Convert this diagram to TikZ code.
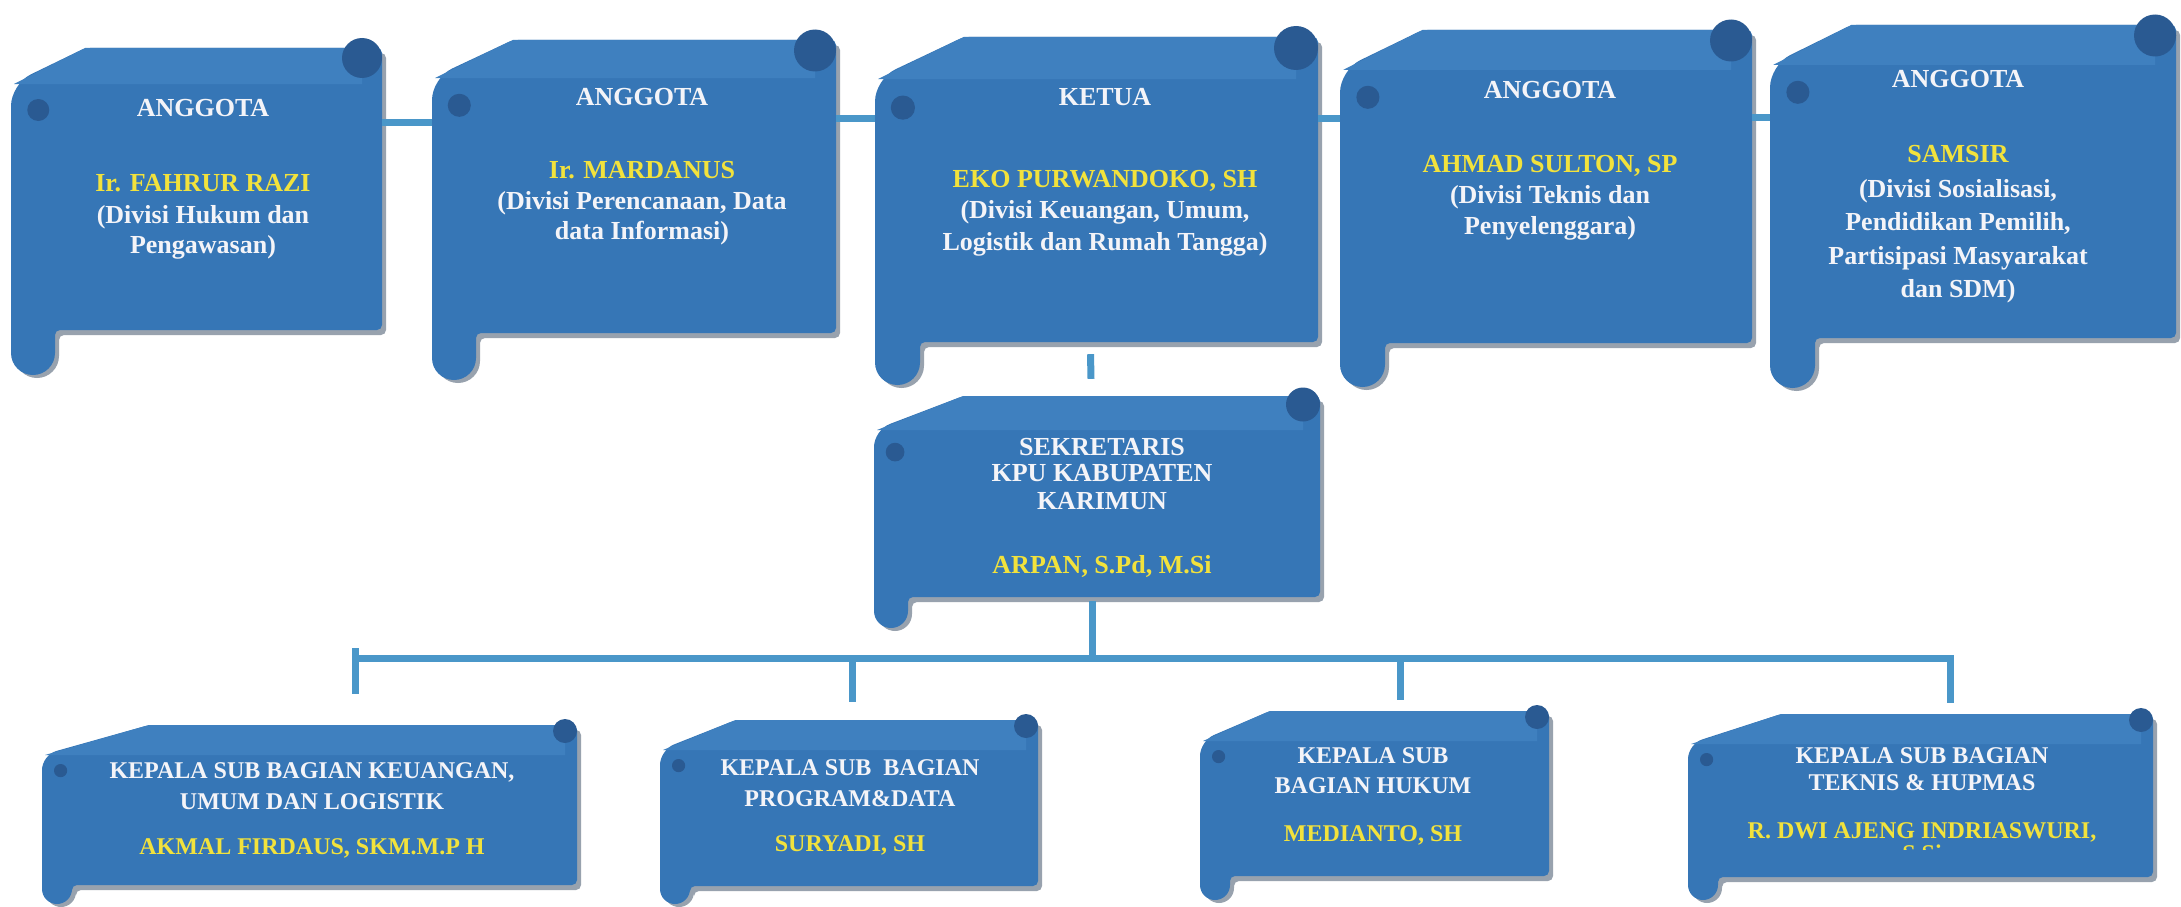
\documentclass[tikz,border=0pt]{standalone}
\usepackage{fontspec}
\setmainfont{Liberation Serif}
\usetikzlibrary{fit}
\definecolor{scrollblue}{HTML}{3676B6}
\definecolor{scrolltopc}{HTML}{3F80BF}
\definecolor{scrolldarkc}{HTML}{2A5A92}
\definecolor{shadowc}{HTML}{98A2AE}
\definecolor{conncol}{HTML}{4A97C9}
\definecolor{nameyellow}{HTML}{F2E23C}
\definecolor{textwhite}{HTML}{F4F4F8}

% #1 name, #2 L, #3 T, #4 R, #5 body bottom, #6 tail bottom, #7 slant height, #8 roll radius, #9 tail width
\newcommand{\scrollbox}[9]{%
  \pgfmathsetmacro{\scrS}{0.2*(#4-#2)}%
  \pgfmathsetmacro{\scrRc}{#9/2}%
  \pgfmathsetmacro{\scrCr}{#8*0.55}%
  \fill[shadowc,rounded corners=5pt] (#2+4,#3+#7+5) -- (#2+\scrS+4,#3+5) -- (#4+4,#3+5) -- (#4+4,#5+5) -- (#2+#9+4,#5+5) [rounded corners=\scrRc pt] -- (#2+#9+4,#6+3) -- (#2+4,#6+3) -- cycle;
  \fill[scrollblue,rounded corners=5pt] (#2,#3+#7) -- (#2+\scrS,#3) -- (#4,#3) -- (#4,#5) -- (#2+#9,#5) [rounded corners=\scrRc pt] -- (#2+#9,#6) -- (#2,#6) -- cycle;
  \fill[scrolltopc] (#2+3,#3+#7) -- (#2+\scrS,#3) -- (#4-#8,#3) -- (#4-#8,#3+#7) -- cycle;
  \fill[scrolldarkc] (#4-#8,#3+#8/2) circle[radius=#8 pt];
  \fill[scrolldarkc] (#2+#9*0.62,#3+#7+#8*1.3) circle[radius=\scrCr pt];
  \path (#2,#3) coordinate (#1-nw) (#4,#5) coordinate (#1-se);
  \node[fit=(#1-nw)(#1-se),inner sep=0pt] (#1) {};
}

\tikzset{
  ttl/.style={font=\fontsize{26}{31}\selectfont\bfseries, text=textwhite, inner sep=0pt, anchor=base},
  nm/.style={ttl, text=nameyellow},
  btl/.style={ttl, font=\fontsize{24}{29}\selectfont\bfseries},
  bnm/.style={btl, text=nameyellow},
  conn/.style={draw=conncol, line width=7pt},
}

\begin{document}
\begin{tikzpicture}[x=1pt,y=-1pt]
\useasboundingbox (0,0) rectangle (2181,907);
\fill[white] (0,0) rectangle (2181,907);

\coordinate (cy1) at (0,122);
\coordinate (cy2) at (0,118);
\coordinate (cy3) at (0,118);
\coordinate (cy4) at (0,117);

% top row
\scrollbox{t1}{11}{48}{382}{330}{375}{36}{20}{44}
\scrollbox{t2}{432}{40}{836}{333}{380}{38}{21}{44}
\scrollbox{t3}{875}{37}{1318}{342}{385}{42}{22}{45}
\scrollbox{t4}{1340}{30}{1752}{343}{387}{40}{21}{45}
\scrollbox{t5}{1770}{25}{2176}{338}{388}{40}{21}{45}

% sekretaris
\scrollbox{sek}{874}{396}{1320}{597}{628}{34}{17}{34}

% bottom row
\scrollbox{b1}{42}{725}{577}{885}{904}{30}{12}{30}
\scrollbox{b2}{660}{720}{1038}{886}{904}{30}{12}{30}
\scrollbox{b3}{1200}{711}{1549}{876}{900}{30}{12}{30}
\scrollbox{b4}{1688}{714}{2153}{877}{900}{30}{12}{30}

% top connectors
\draw[conn] (t1.east |- cy1) -- (t2.west |- cy1);
\draw[conn] (t2.east |- cy2) -- (t3.west |- cy2);
\draw[conn] (t3.east |- cy3) -- (t4.west |- cy3);
\draw[conn] (t4.east |- cy4) -- (t5.west |- cy4);

% ketua to sekretaris
\draw[conn] ([xshift=-6pt,yshift=-12pt]t3.south) -- ([xshift=-6pt,yshift=17pt]sek.north);

% bus
\coordinate (j1) at (355,658);
\coordinate (j2) at (852,658);
\coordinate (j3) at (1400,658);
\coordinate (j4) at (1950,658);
\draw[conn] ([xshift=-5pt,yshift=-4pt]sek.south) -- ([xshift=-5pt]sek.south |- j1);
\draw[conn] ([yshift=10pt]j1) -- ([yshift=31pt]j1 |- b1.north);
\draw[conn,line join=miter] (j1) -- (j4) -- ([yshift=11pt]j4 |- b4.north);
\draw[conn] (j2) -- ([yshift=18pt]j2 |- b2.north);
\draw[conn] (j3) -- ([yshift=11pt]j3 |- b3.north);

% texts top row
\node[ttl] (t1a) at (203,116) {ANGGOTA};
\node[nm]  (t1b) at (203,191) {Ir. FAHRUR RAZI};
\node[ttl] (t1c) at (203,223) {(Divisi Hukum dan};
\node[ttl] (t1d) at (203,253) {Pengawasan)};

\node[ttl] (t2a) at (642,105) {ANGGOTA};
\node[nm]  (t2b) at (642,178) {Ir. MARDANUS};
\node[ttl] (t2c) at (642,209) {(Divisi Perencanaan, Data};
\node[ttl] (t2d) at (642,239) {data Informasi)};

\node[ttl] (t3a) at (1105,105) {KETUA};
\node[nm]  (t3b) at (1105,187) {EKO PURWANDOKO, SH};
\node[ttl] (t3c) at (1105,218) {(Divisi Keuangan, Umum,};
\node[ttl] (t3d) at (1105,250) {Logistik dan Rumah Tangga)};

\node[ttl] (t4a) at (1550,98) {ANGGOTA};
\node[nm]  (t4b) at (1550,172) {AHMAD SULTON, SP};
\node[ttl] (t4c) at (1550,203) {(Divisi Teknis dan};
\node[ttl] (t4d) at (1550,234) {Penyelenggara)};

\node[ttl] (t5a) at (1958,88) {ANGGOTA};
\node[nm]  (t5b) at (1958,162) {SAMSIR};
\node[ttl] (t5c) at (1958,197) {(Divisi Sosialisasi,};
\node[ttl] (t5d) at (1958,230) {Pendidikan Pemilih,};
\node[ttl] (t5e) at (1958,264) {Partisipasi Masyarakat};
\node[ttl] (t5f) at (1958,297) {dan SDM)};

% sekretaris texts
\node[ttl] (sa) at (1102,455) {SEKRETARIS};
\node[ttl] (sb) at (1102,481) {KPU KABUPATEN};
\node[ttl] (sc) at (1102,509) {KARIMUN};
\node[nm]  (sd) at (1102,573) {ARPAN, S.Pd, M.Si};

% bottom texts
\node[btl] (b1a) at (312,778) {KEPALA SUB BAGIAN KEUANGAN,};
\node[btl] (b1b) at (312,809) {UMUM DAN LOGISTIK};
\node[bnm] (b1c) at (312,854) {AKMAL FIRDAUS, SKM.M.P H};

\node[btl] (b2a) at (850,775) {KEPALA SUB\ \ BAGIAN};
\node[btl] (b2b) at (850,806) {PROGRAM\&DATA};
\node[bnm] (b2c) at (850,851) {SURYADI, SH};

\node[btl] (b3a) at (1373,763) {KEPALA SUB};
\node[btl] (b3b) at (1373,793) {BAGIAN HUKUM};
\node[bnm] (b3c) at (1373,841) {MEDIANTO, SH};

\node[btl] (b4a) at (1922,763) {KEPALA SUB BAGIAN};
\node[btl] (b4b) at (1922,790) {TEKNIS \& HUPMAS};
\node[bnm] (b4c) at (1922,838) {R. DWI AJENG INDRIASWURI,};
\begin{scope}
  \clip (1850,842) rectangle (2000,849);
  \node[bnm] (b4d) at (1922,861) {S.Si};
\end{scope}
\end{tikzpicture}
\end{document}
